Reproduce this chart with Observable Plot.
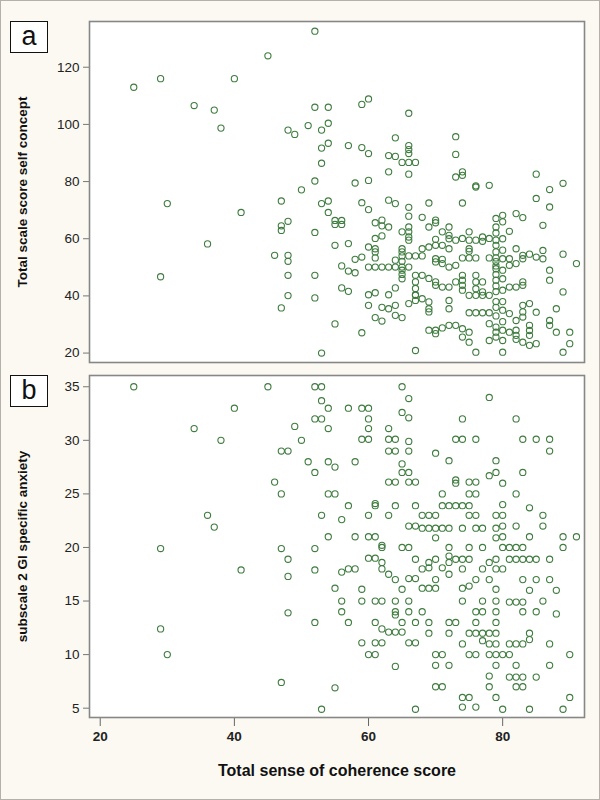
<!DOCTYPE html>
<html><head><meta charset="utf-8">
<script src="https://cdn.jsdelivr.net/npm/d3@7"></script>
<script src="https://cdn.jsdelivr.net/npm/@observablehq/plot@0.6"></script>
<style>
html,body{margin:0;padding:0;background:#fff;}
#fig{position:relative;width:600px;height:800px;background:#fcf9f3;font-family:"Liberation Sans",Arial,sans-serif;overflow:hidden}
.panel{position:absolute;left:0}
.tag{position:absolute;left:10px;width:36px;height:30px;border:1.5px solid #111;background:#fff;font-size:27px;line-height:28px;text-align:center;color:#111}
#edge{position:absolute;left:0;top:0;width:600px;height:800px;box-sizing:border-box;border:1px solid #b5b1aa;pointer-events:none}
</style></head><body><div id="fig"></div><script>
// ---- data (x = Total sense of coherence score) ----
const xTicks = [20, 40, 60, 80];
const yTicksA = [20, 40, 60, 80, 100, 120];
const yTicksB = [5, 10, 15, 20, 25, 30, 35];
const xTitle = "Total sense of coherence score";
const yTitleA = "Total scale score self concept";
const yTitleB = "subscale 2 GI specific anxiety";
const tags = ["a", "b"];

// panel a: [SOC score, self concept score]
const panelA = [
[52,132.6],[45,124],[25,113],[29,116],[40,116],[34,106.6],[37,105],[38,98.7],[52,106],[54,106],[48,98],[49,96.5],[51,99.6],[53,98],[54,100.4],[54,93.4],[53,91.7],[53,86.4],[52,80.2],[50,77.1],[47,73.2],[30,72.3],[41,69.2],[53,72.3],[54,73.2],[54,69.2],[55,66.4],[48,66.1],[47,64.5],[47,62.9],[52,62.2],[55,57.7],[36,58.2],[46,54.2],[48,54.2],[48,52.1],[48,47.2],[52,47.2],[29,46.7],[48,40.1],[52,39.3],[47,35.8],[55,30.2],[53,20],
[59,107],[60,108.9],[66,103.9],[64,95.3],[57,92.6],[59,91.9],[60,89.8],[66,92.6],[66,91.2],[66,89.8],[63,89.1],[64,88.8],[65,86.7],[66,86.7],[67,86.7],[63,83.4],[66,82.6],[58,79.5],[60,80.4],[59,72.6],[60,70.2],[63,73.5],[64,72.3],[66,71],[66,67.9],[68,67.5],[55,65],[56,66.4],[56,65],[61,65.6],[62,66.5],[62,64.5],[63,64.1],[65,62.4],[66,64.1],[66,62.4],[66,60.6],[66,59.5],[57,58.3],[61,60.1],[62,61],[60,57.1],[61,56.5],[61,55.4],[65,56.5],[65,55.4],[66,54],[67,54],[68,54],[65,54],[65,52.1],[58,52.8],[59,53.6],[56,50.5],[61,53.3],[64,52.5],[64,50.1],[65,50.1],[66,50.1],[65,49],[65,47.5],[65,46],[60,50.1],[61,50.1],[62,50.1],[63,50.1],[57,48.7],[58,48.1],[56,42.8],[57,41.6],[60,40.4],[61,41.1],[63,40.4],[64,42.8],[67,44.9],[67,42.6],[67,40.4],[67,38.4],[66,37.3],[60,36.7],[62,36],[63,35.5],[64,36.7],[61,32.4],[62,31.2],[64,33.2],[65,32.4],[59,27.1],[67,20.9],
[73,95.7],[73,89.5],[73,81.6],[74,83.4],[74,82.2],[76,78.1],[76,78.5],[78,78.7],[69,72.5],[74,72.5],[70,66.5],[70,65.6],[69,64.1],[72,64.1],[75,62.4],[79,64.1],[71,62.4],[72,61.2],[72,60],[70,59.8],[73,59.5],[74,60.1],[75,59.5],[76,59.5],[77,60.6],[77,59.1],[78,60.1],[79,59.5],[79,57.7],[68,56.5],[69,57.1],[70,57.7],[71,57.7],[72,56.5],[75,56.5],[75,55.6],[74,53.3],[75,53.3],[76,53.3],[78,53.3],[79,55.4],[79,53.3],[70,53],[70,51.9],[71,52.8],[71,51.3],[72,50.1],[73,50.7],[67,47.2],[68,47.2],[69,46.1],[70,44.9],[70,43.7],[71,43.1],[72,43.1],[74,47.2],[74,45.5],[74,43.7],[74,42],[73,44.9],[76,47.2],[76,44.9],[76,42.5],[76,40.2],[77,44.9],[77,41.4],[79,49.5],[79,47.5],[79,45.5],[79,43.5],[79,41.5],[67,40.2],[68,39],[69,37.9],[69,35.5],[69,34.4],[72,38.4],[72,35.5],[75,40.2],[77,40.2],[78,40.2],[75,34.1],[76,34.1],[77,34.1],[78,34.1],[69,28],[70,28],[70,26.8],[71,28.8],[72,29.7],[73,29.7],[74,28.5],[75,27.3],[78,30.3],[79,29.1],[79,27.3],[79,25.6],[78,24.4],[74,25.6],[75,23.8],[76,20.3],[80,24.4],
[85,82.6],[87,77.2],[89,79.4],[85,74.1],[87,71.1],[80,68.2],[82,68.8],[83,67.4],[79,67.1],[80,65.9],[81,62.6],[86,64.7],[82,56.5],[83,54.2],[83,53],[84,54.6],[85,53.6],[86,53],[86,55.9],[89,54.6],[91,51.3],[81,53],[81,50.7],[82,51.3],[87,49],[87,45.5],[89,41.4],[81,43.1],[82,43.1],[83,43.7],[83,44.9],[83,36.7],[84,37.3],[85,34.3],[88,35.5],[81,33.8],[83,34.4],[83,32.6],[82,31.4],[87,31.4],[87,29.7],[88,27.3],[80,28],[81,27.3],[82,28],[82,26.2],[82,24.8],[84,29.7],[84,27.9],[84,26.2],[83,23.8],[84,22.7],[90,27.3],[90,23.3],[80,20.3],[89,20.3],[85,23.3],
[79,62],[79,52],[79,50.5],[79,38],[79,36],[79,33],[80,60],[80,56],[80,53],[80,49],[80,46],[80,42],[80,38],[80,35],[80,31]
];

// panel b: [SOC score, GI specific anxiety subscale]
const panelB = [
[25,35],[45,35],[52,35],[53,35],[53,33.7],[54,33],[40,33],[52,32],[53,32],[34,31.1],[49,31.3],[54,31.1],[38,30],[50,30],[47,29],[48,29],[51,28],[54,28],[55,27.5],[52,27],[46,26.1],[47,25],[54,25],[55,25],[36,23],[37,21.9],[53,23],[54,21],[29,19.9],[47,19.9],[52,19.9],[48,18.9],[41,17.9],[52,17.9],[48,17.3],[55,16.2],[48,13.9],[29,12.4],[52,13],[30,10],[47,7.4],[55,6.9],[53,4.9],
[65,35],[66,33.9],[57,33],[59,33],[60,33],[65,32.6],[66,32.1],[60,32],[60,31.1],[63,31.1],[59,30.1],[60,30.1],[63,30.1],[64,30.1],[66,29.9],[63,29],[64,29],[66,29],[58,28],[65,27.8],[65,27],[66,27],[63,26.1],[64,26.1],[66,26.1],[67,26.1],[57,23.9],[61,23.9],[61,24.1],[64,23.9],[67,23.9],[56,22.6],[60,23],[63,23],[66,22],[67,22],[58,21],[60,21],[61,21],[62,20],[62,20.2],[65,20],[66,20],[67,18.9],[60,19],[61,19],[62,18.6],[57,18],[58,18],[62,18],[63,17.5],[64,17],[66,17.1],[67,17.1],[56,17.7],[59,16.1],[65,16.1],[56,15],[59,15],[61,15],[62,15],[64,15],[66,15],[56,14],[64,14],[64,13.7],[66,14],[57,13],[61,13],[65,13],[67,13],[62,12.4],[63,12.1],[64,12.1],[65,12.1],[59,11.1],[61,11.1],[62,11.1],[66,11.1],[67,11.1],[60,10],[61,10],[64,8.9],[67,4.9],
[78,34],[74,32],[73,30.1],[74,30.1],[76,30.1],[70,28.8],[72,28.1],[79,28.1],[73,26.3],[73,26],[75,26.1],[76,26.1],[78,26.7],[79,27],[71,25],[75,25],[76,25],[71,23.9],[72,23.9],[73,23.9],[74,23.9],[75,23.9],[68,23],[69,23],[70,23],[75,23],[76,23],[79,23],[68,21.8],[69,21.8],[70,21.8],[71,21.8],[72,21.8],[74,21.8],[76,21.8],[77,21.8],[79,21.8],[70,20.9],[79,20.9],[72,20],[75,20],[77,20],[69,18.6],[70,18.9],[72,19.2],[72,18.6],[73,18.9],[74,18.9],[75,18.9],[78,18.6],[79,18.9],[68,18],[69,18.1],[71,18.1],[72,17.5],[74,18],[77,18],[79,18],[70,17],[76,17],[78,17],[68,16.2],[69,16.2],[70,16.2],[74,16.2],[75,16.4],[79,16.1],[74,15],[77,15],[79,15],[76,14],[77,14],[68,14],[69,13],[72,13],[73,13],[76,13],[79,13],[69,12],[72,12],[75,12],[76,12],[77,12],[78,12],[79,12],[74,11],[77,11.3],[78,11],[70,10],[71,10],[75,10],[76,10],[78,10],[79,10],[70,9],[72,9],[79,9],[78,8],[70,7],[71,7],[78,7],[74,6],[75,6],[79,6],[74,5.1],[76,5.1],
[82,32],[83,30.1],[85,30.1],[87,30.1],[87,29],[83,27],[80,26],[82,25],[80,24],[84,23.7],[86,23],[80,23],[80,22],[82,22],[86,22],[80,21],[84,21],[89,21],[91,21],[80,20],[81,20],[82,20],[83,20],[89,20],[81,18.9],[82,18.9],[83,18.9],[84,18.9],[85,18.9],[87,18.9],[80,18],[83,17],[85,17],[87,17],[84,16],[88,16],[86,15],[81,14.9],[82,14.9],[83,14.9],[88,13.8],[83,14],[85,14],[84,12],[84,11.4],[81,11],[82,11],[83,11],[87,11],[80,10],[81,10],[90,10],[82,9],[87,9],[81,7.9],[82,7.9],[83,7.9],[85,7.9],[82,7],[83,7],[90,6],[80,4.9],[84,4.9],[89,4.9],[79,14],[79,11]
];

// ---- drawing ----
const FONT = '"Liberation Sans", Arial, sans-serif';
const xDomain = [18.4, 92.2];
const dotStyle = {x: d => d[0], y: d => d[1], r: 3.1, stroke: "#3f7c3f", strokeWidth: 1.1, fill: "none"};
const frameStroke = {stroke: "#878787", strokeWidth: 1.6};
const yTitleStyle = {text: d => d, frameAnchor: "left", dx: -67, rotate: -90, textAnchor: "middle", lineAnchor: "middle", fontWeight: "bold", fontSize: 13.5, fill: "#111"};
const fig = document.getElementById("fig");

const plotA = Plot.plot({
  width: 600, height: 372,
  marginLeft: 89, marginRight: 16, marginTop: 21, marginBottom: 10,
  style: {background: "transparent", fontFamily: FONT, color: "#222", overflow: "visible"},
  x: {domain: xDomain, axis: null},
  y: {domain: [16.7, 136], axis: null},
  marks: [
    Plot.frame({fill: "white"}),
    Plot.axisY(yTicksA, {tickSize: 6, tickPadding: 4, fontSize: 13.5, stroke: "#777", fill: "#222", label: null}),
    Plot.dot(panelA, dotStyle),
    Plot.frame(frameStroke),
    Plot.text([yTitleA], yTitleStyle)
  ]
});
plotA.classList.add("panel");
plotA.style.top = "0px";
fig.appendChild(plotA);

const plotB = Plot.plot({
  width: 600, height: 428,
  marginLeft: 89, marginRight: 16, marginTop: 3, marginBottom: 83,
  style: {background: "transparent", fontFamily: FONT, color: "#222", overflow: "visible"},
  x: {domain: xDomain, axis: null},
  y: {domain: [4.13, 36.05], axis: null},
  marks: [
    Plot.frame({fill: "white"}),
    Plot.axisY(yTicksB, {tickSize: 6, tickPadding: 4, fontSize: 13.5, stroke: "#777", fill: "#222", label: null}),
    Plot.axisX(xTicks, {tickSize: 9, tickPadding: 5, fontSize: 13.5, fontWeight: "bold", stroke: "#666", fill: "#222", label: null}),
    Plot.dot(panelB, dotStyle),
    Plot.frame(frameStroke),
    Plot.text([yTitleB], yTitleStyle),
    Plot.text([xTitle], {text: d => d, frameAnchor: "bottom", dy: 53, textAnchor: "middle", lineAnchor: "middle", fontWeight: "bold", fontSize: 16, fill: "#111"})
  ]
});
plotB.classList.add("panel");
plotB.style.top = "372px";
fig.appendChild(plotB);

const tagTops = [21, 375];
tags.forEach((t, i) => {
  const d = document.createElement("div");
  d.className = "tag";
  d.style.top = tagTops[i] + "px";
  d.textContent = t;
  fig.appendChild(d);
});
const edge = document.createElement("div");
edge.id = "edge";
fig.appendChild(edge);
</script></body></html>
